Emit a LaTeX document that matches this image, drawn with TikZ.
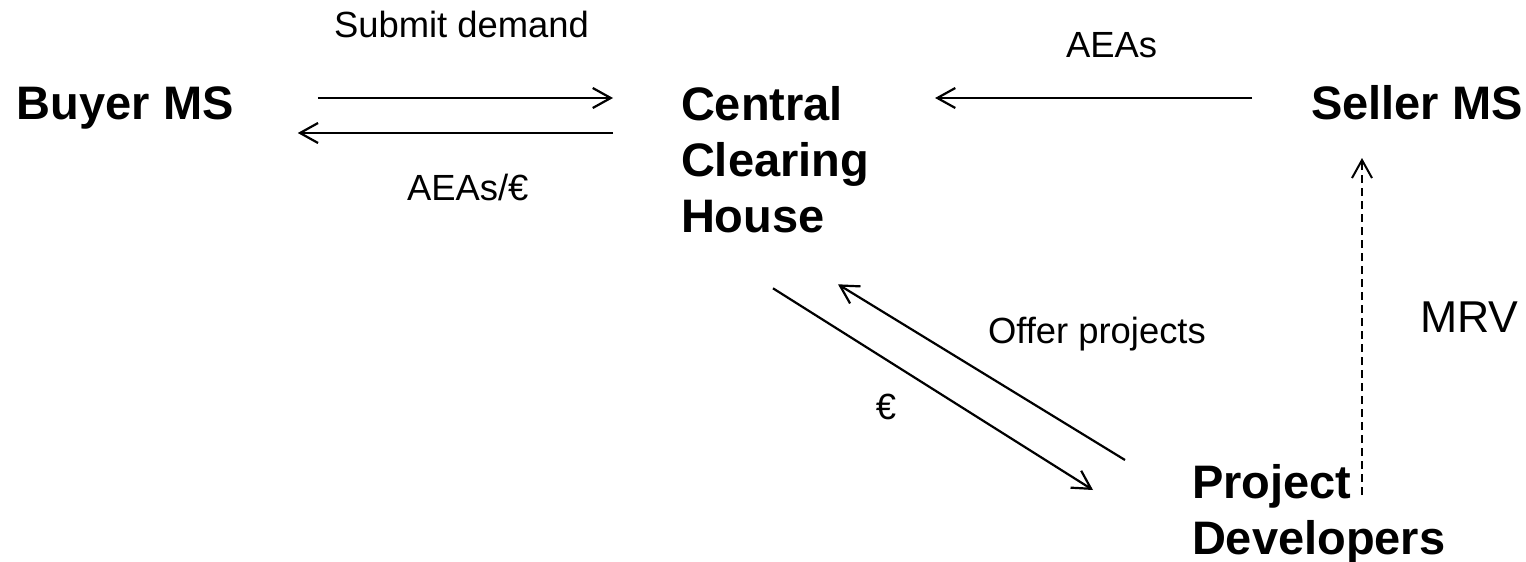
\documentclass[tikz,border=0pt]{standalone}
\usepackage{fontspec}
\setmainfont{Liberation Sans}
\usetikzlibrary{arrows.meta}

\begin{document}
\begin{tikzpicture}[
  x=0.5pt, y=-0.5pt,
  party/.style={rectangle, inner sep=0pt, outer sep=0pt, align=left,
                font=\bfseries\fontsize{23.5}{28.2}\selectfont},
  flow/.style={rectangle, inner sep=0pt, outer sep=0pt,
               font=\fontsize{18.2}{22}\selectfont},
  arr/.style={-{Straight Barb[length=9pt,width=10pt]}, line width=1.1pt},
  darr/.style={arr, dash pattern=on 4pt off 2.5pt, line width=1pt}
]
\useasboundingbox (0,0) rectangle (1526,562);

%% ---- Parties ----
\node[party, anchor=base west]  (buyer)  at (17,119)   {Buyer MS};
\node[party, anchor=north west] (cch)    at (681,86)   {Central\\Clearing\\House};
\node[party, anchor=base west]  (seller) at (1311,119) {Seller MS};
\node[party, anchor=north west] (dev)    at (1192,464) {Project\\Developers};

%% ---- Flow labels ----
\node[flow, anchor=base west] (submit)   at (334,38)  {Submit demand};
\node[flow, anchor=base west] (aeasbuy)  at (407,200) {AEAs/€};
\node[flow, anchor=base west] (aeassell) at (1066,57) {AEAs};
\node[flow, anchor=base west] (offer)    at (988,343) {Offer projects};
\node[flow]                   (euro)     at (886,407) {€};
\node[flow, anchor=base west, font=\fontsize{22.3}{26}\selectfont] (mrv) at (1420,332) {MRV};

%% ---- Buyer <-> Clearing House ----
\draw[arr] ([shift={(84,-21)}]buyer.base east) -- ([shift={(-68,12)}]cch.north west);
\draw[arr] ([shift={(-68,47)}]cch.north west) -- ([shift={(64,14)}]buyer.base east);

%% ---- Seller -> Clearing House ----
\draw[arr] ([shift={(-59,-21)}]seller.base west) -- ([shift={(66,12)}]cch.north east);

%% ---- Clearing House <-> Project Developers ----
\draw[arr] ([shift={(92,55)}]cch.south west) -- ([shift={(-99,26)}]dev.north west);
\draw[arr] ([shift={(-67,-4)}]dev.north west) -- ([shift={(157,51)}]cch.south west);

%% ---- Project Developers -> Seller (MRV) ----
\draw[darr] ([shift={(170,31)}]dev.north west) -- ([shift={(51,39)}]seller.base west);

\end{tikzpicture}
\end{document}
